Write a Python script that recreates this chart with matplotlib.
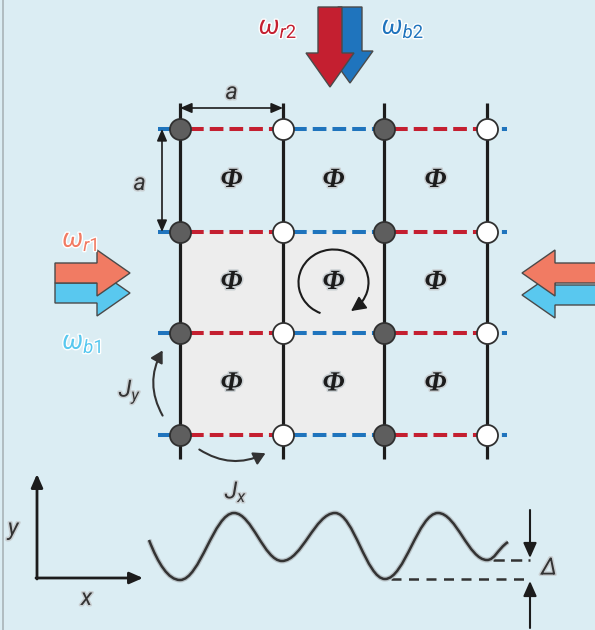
import numpy as np
import matplotlib
matplotlib.use("Agg")
import matplotlib.pyplot as plt
from matplotlib.patches import Polygon, Rectangle, Arc, FancyArrowPatch, PathPatch
from matplotlib.path import Path
import matplotlib.patheffects as pe

plt.rcParams['mathtext.fontset'] = 'custom'
plt.rcParams['mathtext.it'] = 'Roboto:italic'
plt.rcParams['mathtext.rm'] = 'Roboto'

# lattice geometry (pixel units of the drawing)
col_x = [180, 283, 384, 487]
row_y = [129, 232, 333, 435]
node_filled = [True, False, True, False]       # gray vs open sites per column
link_colors = ['red', 'blue', 'red']             # bond colour between columns
flux_cells = [(c, r) for r in range(3) for c in range(3)]
shaded_cols = (0, 2)
shaded_rows = (1, 3)

# energy landscape extrema along x (x, y)
wave_pts = [(149, 540), (180, 580), (234, 513), (282, 561), (335, 513),
            (385, 579), (438, 513), (487, 560), (508, 542)]

BG = '#dbedf3'
RED = '#c41f30'
BLUE = '#1f74bd'
SALMON = '#f17b63'
CYAN = '#59c8ef'
DARK = '#1c1c1c'

halo = [pe.withStroke(linewidth=2.2, foreground='#c9cfd2')]

fig = plt.figure(figsize=(5.95, 6.30), dpi=100)
fig.patch.set_facecolor(BG)
ax = fig.add_axes([0, 0, 1, 1])
ax.set_facecolor(BG)
ax.set_xlim(0, 595)
ax.set_ylim(630, 0)
ax.axis('off')

# frame line on the left
ax.plot([3, 3], [0, 630], color='#a9b4b8', lw=1.2)

# shaded plaquettes
ax.add_patch(Rectangle((col_x[shaded_cols[0]], row_y[shaded_rows[0]]),
                       col_x[shaded_cols[1]] - col_x[shaded_cols[0]],
                       row_y[shaded_rows[1]] - row_y[shaded_rows[0]],
                       facecolor='#ededed', edgecolor='none', zorder=1))

# vertical bonds
for x in col_x:
    ax.plot([x, x], [row_y[0] - 26, row_y[-1] + 24], color=DARK, lw=2.3,
            zorder=3, solid_capstyle='butt')

# dashed horizontal bonds
cmap = {'red': RED, 'blue': BLUE}
dash = (0, (3.4, 1.5))
for y in row_y:
    ax.plot([col_x[0] - 22, col_x[0]], [y, y], color=BLUE, lw=2.9,
            linestyle=dash, zorder=2)
    for i, c in enumerate(link_colors):
        ax.plot([col_x[i] + 10, col_x[i + 1] - 10], [y, y], color=cmap[c],
                lw=2.9, linestyle=dash, zorder=2)
    ax.plot([col_x[-1], col_x[-1] + 20], [y, y], color=BLUE, lw=2.9,
            linestyle=(0, (2.2, 1.5)), zorder=2)

# lattice sites
for x, filled in zip(col_x, node_filled):
    for y in row_y:
        ax.scatter([x], [y], s=230, facecolor='#5e5e5e' if filled else 'white',
                   edgecolor='#303030', linewidths=1.3, zorder=5)

# flux labels
for c, r in flux_cells:
    cx = (col_x[c] + col_x[c + 1]) / 2
    cy = (row_y[r] + row_y[r + 1]) / 2
    ax.text(cx, cy, 'Φ', fontsize=20, family='Liberation Serif', style='italic',
            weight='bold', ha='center', va='center', color=DARK, zorder=6,
            path_effects=halo)

# circulation arrow around central plaquette
ccx = (col_x[1] + col_x[2]) / 2
ccy = (row_y[1] + row_y[2]) / 2
ax.add_patch(Arc((ccx, ccy), 70, 66, theta1=113, theta2=412, color=DARK,
                 lw=1.5, zorder=6))
t0, t1 = np.deg2rad(45), np.deg2rad(60)
ax.annotate('', xy=(ccx + 35 * np.cos(t1), ccy + 33 * np.sin(t1)),
            xytext=(ccx + 35 * np.cos(t0), ccy + 33 * np.sin(t0)),
            arrowprops=dict(arrowstyle='-|>,head_length=0.9,head_width=0.45',
                            color=DARK, lw=1.2, shrinkA=0, shrinkB=0), zorder=6)


def block_arrow(tip, direction, length, shaft_w, head_w, head_l, color):
    d = np.array(direction, float)
    n = np.array([-d[1], d[0]])
    tip = np.array(tip, float)
    base = tip - d * length
    neck = tip - d * head_l
    pts = [base + n * shaft_w / 2, neck + n * shaft_w / 2, neck + n * head_w / 2,
           tip, neck - n * head_w / 2, neck - n * shaft_w / 2, base - n * shaft_w / 2]
    ax.add_patch(Polygon(pts, closed=True, facecolor=color, edgecolor='#4a4a4a',
                         lw=1.0, zorder=4))


# pump beams: top (blue behind red), left and right
block_arrow((350, 83), (0, 1), 76, 24, 46, 32, BLUE)
block_arrow((330, 87), (0, 1), 80, 24, 48, 34, RED)
block_arrow((130, 293), (1, 0), 75, 20, 46, 33, CYAN)
block_arrow((130, 273), (1, 0), 75, 20, 46, 33, SALMON)
block_arrow((522, 295), (-1, 0), 75, 20, 46, 33, CYAN)
block_arrow((522, 273), (-1, 0), 75, 20, 46, 33, SALMON)

# beam labels
for x, y, s, c in [(278, 27, r'$\omega_{r2}$', RED), (403, 27, r'$\omega_{b2}$', BLUE),
                   (80, 240, r'$\omega_{r1}$', SALMON), (82, 342, r'$\omega_{b1}$', CYAN)]:
    ax.text(x, y, s, fontsize=19, color=c, ha='center', va='center', zorder=6,
            path_effects=[pe.withStroke(linewidth=2, foreground='#ffffff')])

# lattice constant markers
ax.annotate('', xy=(col_x[0], 108), xytext=(col_x[1], 108),
            arrowprops=dict(arrowstyle='<|-|>,head_length=0.7,head_width=0.3',
                            color=DARK, lw=1.2, shrinkA=0, shrinkB=0), zorder=6)
ax.annotate('', xy=(162, row_y[0]), xytext=(162, row_y[1]),
            arrowprops=dict(arrowstyle='<|-|>,head_length=0.7,head_width=0.3',
                            color=DARK, lw=1.2, shrinkA=0, shrinkB=0), zorder=6)
ax.text(232, 92, r'$a$', fontsize=17, color='#333333', ha='center', va='center',
        path_effects=halo)
ax.text(140, 183, r'$a$', fontsize=17, color='#333333', ha='center', va='center',
        path_effects=halo)

# tunnelling arrows
ax.add_patch(FancyArrowPatch((164, 418), (164, 348), connectionstyle='arc3,rad=-0.3',
                             arrowstyle='-|>,head_length=7,head_width=4',
                             color='#333333', lw=1.5, zorder=6))
ax.add_patch(FancyArrowPatch((197, 448), (268, 452), connectionstyle='arc3,rad=0.3',
                             arrowstyle='-|>,head_length=7,head_width=4',
                             color='#333333', lw=1.5, zorder=6))
ax.text(130, 392, r'$J_y$', fontsize=17, color='#333333', ha='center', va='center',
        path_effects=halo)
ax.text(236, 492, r'$J_x$', fontsize=17, color='#333333', ha='center', va='center',
        path_effects=halo)

# coordinate axes
ax.annotate('', xy=(37, 474), xytext=(37, 579),
            arrowprops=dict(arrowstyle='-|>,head_length=0.8,head_width=0.35',
                            color=DARK, lw=2, shrinkA=0, shrinkB=0))
ax.annotate('', xy=(143, 578), xytext=(36, 578),
            arrowprops=dict(arrowstyle='-|>,head_length=0.8,head_width=0.35',
                            color=DARK, lw=2, shrinkA=0, shrinkB=0))
ax.text(15, 530, r'$y$', fontsize=17, color='#333333', ha='center', va='center',
        path_effects=halo)
ax.text(88, 598, r'$x$', fontsize=17, color='#333333', ha='center', va='center',
        path_effects=halo)

# superlattice potential drawn as cubic Bezier through the extrema
verts = [wave_pts[0]]
codes = [Path.MOVETO]
for i in range(len(wave_pts) - 1):
    (x0, y0), (x1, y1) = wave_pts[i], wave_pts[i + 1]
    dx = x1 - x0
    if i == 0:
        c1 = (x0 + 0.3 * dx, y0 + 0.6 * (y1 - y0))
    else:
        c1 = (x0 + 0.37 * dx, y0)
    if i == len(wave_pts) - 2:
        c2 = (x1 - 0.5 * dx, y1 + 0.4 * (y0 - y1))
    else:
        c2 = (x1 - 0.37 * dx, y1)
    verts += [c1, c2, (x1, y1)]
    codes += [Path.CURVE4] * 3
ax.add_patch(PathPatch(Path(verts, codes), facecolor='none', edgecolor='#333333',
                       lw=1.8, zorder=4,
                       path_effects=[pe.withStroke(linewidth=3.6, foreground='#b8c2c6')]))

# offset Delta between the two kinds of minima
deep = wave_pts[5]
shallow = wave_pts[7]
ax.plot([deep[0] + 6, 530], [deep[1], deep[1]], color='#333333', lw=1.8,
        linestyle=(0, (4, 3)))
ax.plot([shallow[0] + 6, 530], [shallow[1], shallow[1]], color='#333333', lw=1.8,
        linestyle=(0, (4.5, 2.5)))
ax.annotate('', xy=(530, shallow[1] - 2), xytext=(530, 510),
            arrowprops=dict(arrowstyle='-|>,head_length=0.9,head_width=0.4',
                            color=DARK, lw=1.5, shrinkA=0, shrinkB=0))
ax.annotate('', xy=(530, deep[1] + 2), xytext=(530, 628),
            arrowprops=dict(arrowstyle='-|>,head_length=0.9,head_width=0.4',
                            color=DARK, lw=1.5, shrinkA=0, shrinkB=0))
ax.text(549, 568, 'Δ', fontsize=17, family='Roboto', style='italic',
        color='#333333', ha='center', va='center', path_effects=halo)

fig.savefig('out.png', dpi=100, facecolor=BG)
